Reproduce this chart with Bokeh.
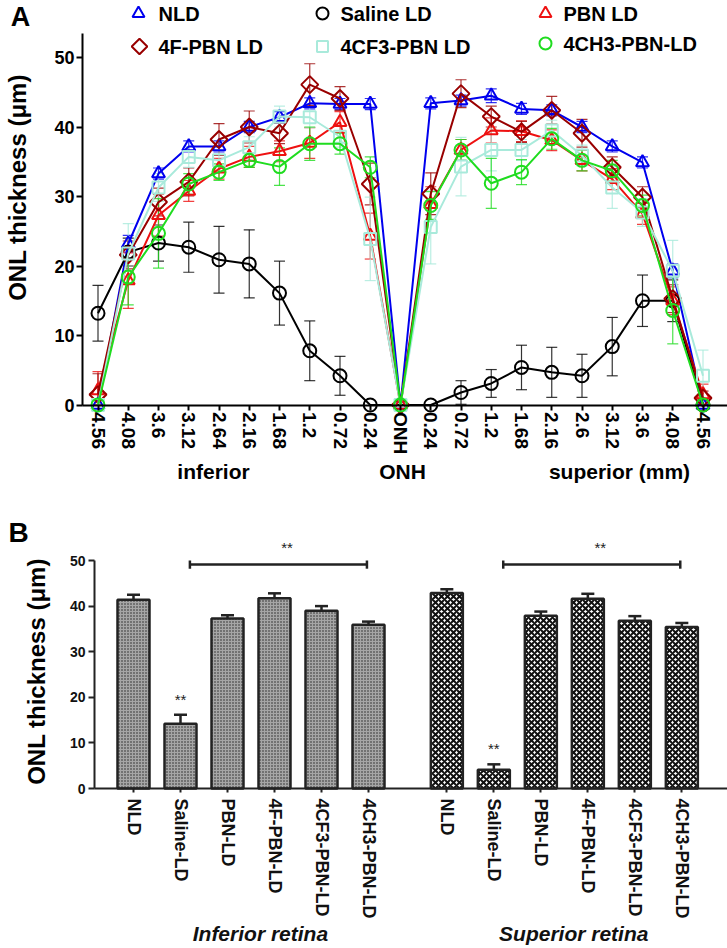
import numpy as np
from bokeh.plotting import figure
from bokeh.models import FixedTicker, Label, Whisker, TeeHead, ColumnDataSource, Range1d
from bokeh.layouts import column
from bokeh.embed import file_html
from bokeh.resources import INLINE

FONT = "Liberation Sans"

# ---------------- Panel A data ----------------
distance_labels = ["4.56", "4.08", "3.6", "3.12", "2.64", "2.16", "1.68", "1.2", "0.72", "0.24", "ONH",
                   "0.24", "0.72", "1.2", "1.68", "2.16", "2.6", "3.12", "3.6", "4.08", "4.56"]

nld_mean = [0, 23.2, 33.3, 37.2, 37.2, 40.0, 41.4, 43.4, 43.3, 43.3, 0,
            43.4, 43.8, 44.5, 42.6, 42.4, 40.0, 37.2, 34.9, 19.3, 0]
nld_err = [0, 1.2, 0.8, 0.8, 0.8, 0.8, 0.8, 0.8, 0.8, 0.8, 0,
           0.8, 0.8, 1.0, 0.8, 0.8, 0.8, 0.8, 0.8, 1.0, 0]

saline_mean = [13.2, 22.0, 23.3, 22.7, 20.9, 20.3, 16.1, 7.8, 4.2, 0, 0,
               0, 1.8, 3.1, 5.4, 4.7, 4.2, 8.4, 15.0, 15.0, 0]
saline_err = [4.0, 2.0, 2.6, 3.6, 4.8, 4.9, 4.6, 4.3, 2.8, 0, 0,
              0, 1.7, 2.0, 3.2, 3.6, 3.1, 4.2, 3.7, 3.0, 0]

pbn_mean = [2.1, 17.9, 27.3, 30.8, 34.0, 35.7, 36.5, 37.7, 40.7, 24.3, 0,
            28.9, 36.7, 39.5, 39.4, 38.1, 35.2, 32.5, 27.5, 15.0, 1.5]
pbn_err = [2.7, 4.0, 3.0, 1.5, 1.5, 1.5, 1.5, 2.2, 1.5, 3.3, 0,
           2.5, 1.5, 1.8, 1.5, 1.5, 1.5, 1.5, 1.5, 2.0, 1.5]

f4_mean = [1.5, 21.6, 29.2, 32.1, 38.2, 40.0, 39.1, 46.1, 44.1, 31.8, 0,
           30.4, 44.8, 41.5, 39.3, 42.4, 39.1, 34.2, 29.9, 15.3, 1.0]
f4_err = [3.0, 2.0, 2.0, 2.0, 2.3, 2.3, 1.5, 3.0, 1.7, 3.0, 0,
          3.0, 2.0, 1.5, 1.5, 2.0, 2.0, 1.5, 1.5, 2.0, 1.0]

cf3_mean = [0, 21.8, 31.3, 35.7, 35.2, 37.1, 41.5, 41.4, 38.6, 23.9, 0,
            25.6, 34.3, 36.7, 36.7, 39.5, 35.9, 31.3, 27.7, 19.3, 4.2]
cf3_err = [0, 4.3, 2.0, 1.5, 1.5, 1.5, 1.5, 1.5, 1.5, 6.0, 0,
           5.3, 4.2, 3.0, 1.5, 1.5, 1.5, 3.0, 2.0, 4.4, 3.7]

ch3_mean = [0, 18.4, 24.7, 31.8, 33.5, 35.2, 34.3, 37.6, 37.6, 34.2, 0,
            28.7, 36.7, 31.9, 33.5, 38.3, 35.2, 33.7, 28.7, 13.6, 0]
ch3_err = [0, 4.0, 5.0, 1.5, 1.2, 1.0, 2.7, 2.4, 1.5, 1.5, 0,
           2.0, 1.5, 3.6, 1.8, 1.5, 1.5, 1.5, 1.5, 4.8, 0]

series_names = ["NLD", "Saline LD", "PBN LD", "4F-PBN LD", "4CF3-PBN LD", "4CH3-PBN-LD"]

# ---------------- Panel B data ----------------
bar_groups = ["NLD", "Saline-LD", "PBN-LD", "4F-PBN-LD", "4CF3-PBN-LD", "4CH3-PBN-LD"]
inferior_mean = [41.4, 14.2, 37.3, 41.7, 39.0, 35.9]
inferior_sem = [1.1, 2.0, 0.7, 1.1, 1.0, 0.7]
superior_mean = [42.9, 4.1, 37.9, 41.6, 36.8, 35.4]
superior_sem = [0.8, 1.2, 0.9, 1.1, 1.0, 0.9]
region_names = ["Inferior retina", "Superior retina"]

W = 727
HA, HB = 485, 463

# ---------------- Panel A ----------------
A_X0, A_DX = 97.5, 30.25   # page px of first position, px per position
A_Y0, A_DY = 404.5, 6.95   # page px of 0 µm, px per µm


def ax(px):
    return (px - A_X0) / A_DX


def ay(py):
    return (A_Y0 - py) / A_DY


def bare_figure(width, height, xr, yr):
    p = figure(width=width, height=height, output_backend="svg", toolbar_location=None,
               x_range=Range1d(*xr), y_range=Range1d(*yr),
               min_border_left=0, min_border_right=0, min_border_top=0, min_border_bottom=0)
    p.title.visible = False
    p.outline_line_color = None
    p.xgrid.visible = False
    p.ygrid.visible = False
    return p


pA = bare_figure(W, HA, (ax(0), ax(W)), (ay(HA), ay(0)))

xa = np.arange(len(distance_labels))

for axis in (pA.xaxis[0], pA.yaxis[0]):
    axis.axis_line_width = 2
    axis.axis_line_color = "black"
    axis.major_tick_in = 0
    axis.major_tick_line_width = 2
    axis.minor_tick_line_color = None
    axis.major_label_text_font = FONT
    axis.major_label_text_font_style = "bold"
    axis.major_label_text_color = "black"

pA.xaxis.ticker = FixedTicker(ticks=list(xa))
pA.xaxis.major_label_overrides = {int(i): lab for i, lab in zip(xa, distance_labels)}
pA.xaxis.major_label_orientation = "vertical"
pA.xaxis.fixed_location = 0
pA.xaxis.bounds = (ax(82), ax(W))
pA.xaxis.major_tick_out = 5
pA.xaxis.major_label_standoff = 2
pA.xaxis.major_label_text_font_size = "19px"

pA.yaxis.ticker = FixedTicker(ticks=[0, 10, 20, 30, 40, 50])
pA.yaxis.fixed_location = ax(82)
pA.yaxis.bounds = (0, ay(33))
pA.yaxis.major_tick_out = 6
pA.yaxis.major_label_standoff = 2
pA.yaxis.major_label_text_font_size = "18px"

styles = [
    (nld_mean, nld_err, "#0000ee", "triangle", 13, 0),
    (saline_mean, saline_err, "#000000", "circle", 13, 0),
    (pbn_mean, pbn_err, "#ee1111", "triangle", 13, 0),
    (f4_mean, f4_err, "#990000", "square", 12, np.pi / 4),
    (cf3_mean, cf3_err, "#a9eadb", "square", 12, 0),
    (ch3_mean, ch3_err, "#1fdc1f", "circle", 13, 0),
]

for mean, err, color, marker, size, ang in styles:
    m = np.array(mean, dtype=float)
    e = np.array(err, dtype=float)
    keep = e > 0
    src = ColumnDataSource(dict(x=xa[keep], up=(m + e)[keep], lo=np.maximum(m - e, 0)[keep]))
    pA.add_layout(Whisker(base="x", upper="up", lower="lo", source=src,
                          line_color=color, line_width=1.2, line_alpha=0.8,
                          upper_head=TeeHead(size=11, line_color=color, line_width=1.2, line_alpha=0.8),
                          lower_head=TeeHead(size=11, line_color=color, line_width=1.2, line_alpha=0.8)))

for mean, err, color, marker, size, ang in styles:
    pA.line(xa, mean, line_color=color, line_width=2)
    pA.scatter(xa, mean, marker=marker, size=size, angle=ang, line_color=color,
               line_width=2, fill_alpha=0)

# manual legend (3 columns x 2 rows), positions in page pixels
leg_marker_px = [(138, 13), (322, 13), (545, 13), (139, 46), (322, 46), (545, 43)]
leg_text_px = [158, 340, 563, 158, 340, 563]
for (mx, my), tx, name, (mean, err, color, marker, size, ang) in zip(leg_marker_px, leg_text_px,
                                                                      series_names, styles):
    pA.scatter([ax(mx)], [ay(my)], marker=marker, size=size - 1, angle=ang, line_color=color,
               line_width=2, fill_alpha=0)
    pA.add_layout(Label(x=ax(tx), y=ay(my), text=name, text_font=FONT, text_font_style="bold",
                        text_font_size="20px", text_baseline="middle", text_align="left",
                        text_color="black"))

pA.add_layout(Label(x=ax(20), y=ay(16), text="A", text_font=FONT, text_font_style="bold",
                    text_font_size="27px", text_align="center", text_baseline="middle",
                    text_color="black"))
pA.add_layout(Label(x=ax(17), y=ay(187), text="ONL thickness (\u03bcm)", angle=np.pi / 2,
                    text_font=FONT, text_font_style="bold", text_font_size="24px",
                    text_align="center", text_baseline="middle", text_color="black"))
for tx, txt in [(213, "inferior"), (402, "ONH"), (619, "superior (mm)")]:
    pA.add_layout(Label(x=ax(tx), y=ay(471), text=txt, text_font=FONT, text_font_style="bold",
                        text_font_size="21px", text_align="center", text_baseline="middle",
                        text_color="black"))

# ---------------- Panel B ----------------
B_X0, B_DX = 133, 47 / 3   # page px of first bar, px per unit (bars every 3 units)
B_Y0, B_DY = 788, 4.56
B_TOP = HA                 # page y where panel B starts


def bx(px):
    return (px - B_X0) / B_DX


def by(py):
    return (B_Y0 - py) / B_DY


pB = bare_figure(W, HB, (bx(0), bx(W)), (by(B_TOP + HB), by(B_TOP)))

n = len(bar_groups)
inf_x = 3 * np.arange(n)
sup_x = 3 * np.arange(n) + 3 * n + 2
bar_w = 32 / B_DX

region_fills = [dict(fill_color="#a6a6a6", hatch_pattern="dot", hatch_scale=3, hatch_weight=1.7,
                     hatch_color="#222222"),
                dict(fill_color="#ffffff", hatch_pattern="diagonal_cross", hatch_scale=6,
                     hatch_weight=2, hatch_color="#111111")]

for xs, means, sems, fills in [(inf_x, inferior_mean, inferior_sem, region_fills[0]),
                               (sup_x, superior_mean, superior_sem, region_fills[1])]:
    means = np.array(means)
    sems = np.array(sems)
    src = ColumnDataSource(dict(x=xs, top=means, up=means + sems))
    pB.add_layout(Whisker(base="x", upper="up", lower="top", source=src, line_color="#222222",
                          line_width=2.5, lower_head=None,
                          upper_head=TeeHead(size=13, line_color="#222222", line_width=2.5)))
    pB.vbar(x="x", top="top", bottom=0, width=bar_w, source=src,
            line_color="#222222", line_width=2.5, **fills)
    # significance stars above saline bar
    pB.add_layout(Label(x=xs[1], y=means[1] + sems[1] + 3.4, text="**", text_font=FONT,
                        text_font_size="15px", text_color="#222222", text_align="center",
                        text_baseline="middle"))
    # bracket from Saline to 4CH3
    bracket_y = 49.1
    x0, x1 = xs[1] + 0.6, xs[-1] - 0.1
    pB.segment(x0=[x0, x0, x1], y0=[bracket_y, bracket_y - 0.9, bracket_y - 0.9],
               x1=[x1, x0, x1], y1=[bracket_y, bracket_y + 0.9, bracket_y + 0.9],
               line_color="#222222", line_width=2.5)
    pB.add_layout(Label(x=(x0 + x1) / 2 + 0.55, y=bracket_y + 3.7, text="**", text_font=FONT,
                        text_font_size="15px", text_color="#222222", text_align="center",
                        text_baseline="middle"))

for axis in (pB.xaxis[0], pB.yaxis[0]):
    axis.axis_line_width = 2
    axis.axis_line_color = "#222222"
    axis.major_tick_in = 0
    axis.major_tick_line_width = 2
    axis.major_tick_line_color = "#222222"
    axis.minor_tick_line_color = None
    axis.major_label_text_font = FONT
    axis.major_label_text_font_style = "bold"
    axis.major_label_text_color = "#111111"

all_x = list(inf_x) + list(sup_x)
pB.xaxis.ticker = FixedTicker(ticks=[int(v) for v in all_x])
pB.xaxis.major_label_overrides = {int(v): lab for v, lab in zip(all_x, bar_groups + bar_groups)}
pB.xaxis.major_label_orientation = "vertical"
pB.xaxis.fixed_location = 0
pB.xaxis.bounds = (bx(94), bx(W))
pB.xaxis.major_tick_out = 4
pB.xaxis.major_label_standoff = 6
pB.xaxis.major_label_text_font_size = "18px"

pB.yaxis.ticker = FixedTicker(ticks=[0, 10, 20, 30, 40, 50])
pB.yaxis.fixed_location = bx(94)
pB.yaxis.bounds = (0, 50)
pB.yaxis.major_tick_out = 6
pB.yaxis.major_label_standoff = 3
pB.yaxis.major_label_text_font_size = "14px"

pB.add_layout(Label(x=bx(18), y=by(532), text="B", text_font=FONT, text_font_style="bold",
                    text_font_size="28px", text_align="center", text_baseline="middle",
                    text_color="black"))
pB.add_layout(Label(x=bx(36), y=by(671), text="ONL thickness (\u03bcm)", angle=np.pi / 2,
                    text_font=FONT, text_font_style="bold", text_font_size="24px",
                    text_align="center", text_baseline="middle", text_color="black"))
for xs, name in zip([inf_x, sup_x], region_names):
    pB.add_layout(Label(x=(xs[0] + xs[-1]) / 2 + 0.6, y=by(933), text=name, text_font=FONT,
                        text_font_style="bold italic", text_font_size="21px",
                        text_align="center", text_baseline="middle", text_color="#111111"))

layout = column(pA, pB, spacing=0)
open("out.html", "w").write(file_html(layout, INLINE))
